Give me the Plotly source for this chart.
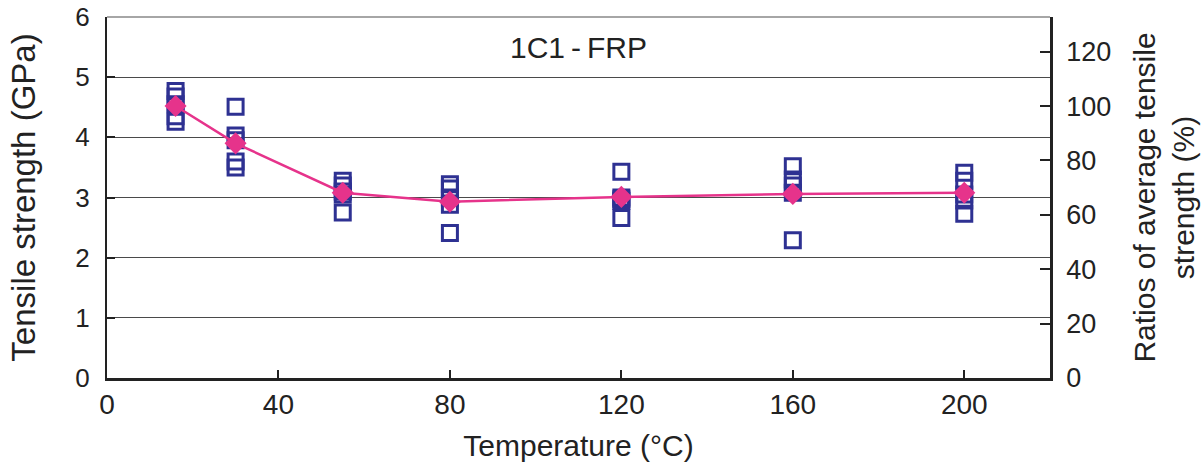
import plotly.graph_objects as go

# ---- data ----
temps = [16, 30, 55, 80, 120, 160, 200]
specimens = [
    [4.77, 4.68, 4.55, 4.35, 4.26],   # 16 C
    [4.51, 4.03, 3.95, 3.60, 3.50],   # 30 C
    [3.28, 3.20, 3.10, 3.05, 2.75],   # 55 C
    [3.22, 3.15, 3.00, 2.88, 2.41],   # 80 C
    [3.43, 3.00, 2.97, 2.94, 2.66],   # 120 C
    [3.52, 3.30, 3.20, 3.08, 2.29],   # 160 C
    [3.41, 3.28, 3.05, 2.95, 2.73],   # 200 C
]
mean_strength = [4.52, 3.90, 3.08, 2.93, 3.01, 3.06, 3.08]
x_ticks = [0, 40, 80, 120, 160, 200]
y_ticks = [0, 1, 2, 3, 4, 5, 6]
ratio_ticks = [0, 20, 40, 60, 80, 100, 120]
title_text = "1C1\u2009-\u2009FRP"

BLUE = "#2E3192"
PINK = "#E6338B"
FONT = "Liberation Sans, Arial, sans-serif"
NARROW = "Liberation Sans Narrow, Liberation Sans, Arial, sans-serif"

sx, sy = [], []
for t, vals in zip(temps, specimens):
    for v in vals:
        sx.append(t)
        sy.append(v)

ratios = [m / mean_strength[0] * 100 for m in mean_strength]

fig = go.Figure()
fig.add_trace(go.Scatter(
    x=sx, y=sy, mode="markers",
    marker=dict(symbol="square-open", size=15, color=BLUE, line=dict(width=3, color=BLUE)),
    showlegend=False, hoverinfo="x+y"))
fig.add_trace(go.Scatter(
    x=temps, y=mean_strength, mode="lines+markers",
    line=dict(color=PINK, width=2.5),
    marker=dict(symbol="diamond", size=17, color=PINK),
    showlegend=False))
fig.add_trace(go.Scatter(
    x=temps, y=ratios, mode="lines", yaxis="y2",
    line=dict(color="rgba(0,0,0,0)"), showlegend=False, hoverinfo="skip"))

fig.update_layout(
    width=1203, height=467,
    margin=dict(l=107, r=153, t=17, b=89),
    paper_bgcolor="white", plot_bgcolor="white",
    font=dict(family=FONT, color="#222", size=26),
    xaxis=dict(
        range=[0, 220], tickvals=x_ticks, ticks="inside", ticklen=8, tickwidth=1.5,
        tickcolor="#222", showline=True, linecolor="#222", linewidth=2.5,
        showgrid=False, zeroline=False, automargin=False,
        tickfont=dict(family=NARROW, size=28, color="#222"),
        title=dict(text="Temperature (°C)", font=dict(family=NARROW, size=30, color="#222"), standoff=16),
    ),
    yaxis=dict(
        range=[0, 6], tickvals=y_ticks, ticks="inside", ticklen=8, tickwidth=2,
        tickcolor="#222", showline=True, linecolor="#222", linewidth=2,
        showgrid=True, gridcolor="#4a4a4a", gridwidth=1.2, zeroline=False, automargin=False,
        tickfont=dict(family=FONT, size=26, color="#222"), ticklabelstandoff=10,
        title=dict(text="Tensile strength (GPa)", font=dict(family=FONT, size=33, color="#222"), standoff=30),
    ),
    yaxis2=dict(
        overlaying="y", side="right",
        range=[0, 600 / mean_strength[0]], tickvals=ratio_ticks, ticks="inside", ticklen=10, tickwidth=2,
        tickcolor="#222", showline=True, linecolor="#222", linewidth=2.5,
        showgrid=False, zeroline=False, automargin=False,
        tickfont=dict(family=FONT, size=27, color="#222"), ticklabelstandoff=8,
        title=dict(text="Ratios of average tensile<br>strength (%)", font=dict(family=FONT, size=30, color="#222"), standoff=24),
    ),
    shapes=[dict(type="line", xref="paper", yref="paper", x0=0, x1=1, y0=1, y1=1,
                 line=dict(color="#888", width=1.5))],
    annotations=[dict(text=title_text, xref="x", yref="paper", x=110, y=0.915,
                      xanchor="center", yanchor="middle",
                      showarrow=False, font=dict(family=FONT, size=30, color="#222"))],
)

fig.write_html("out.html")
